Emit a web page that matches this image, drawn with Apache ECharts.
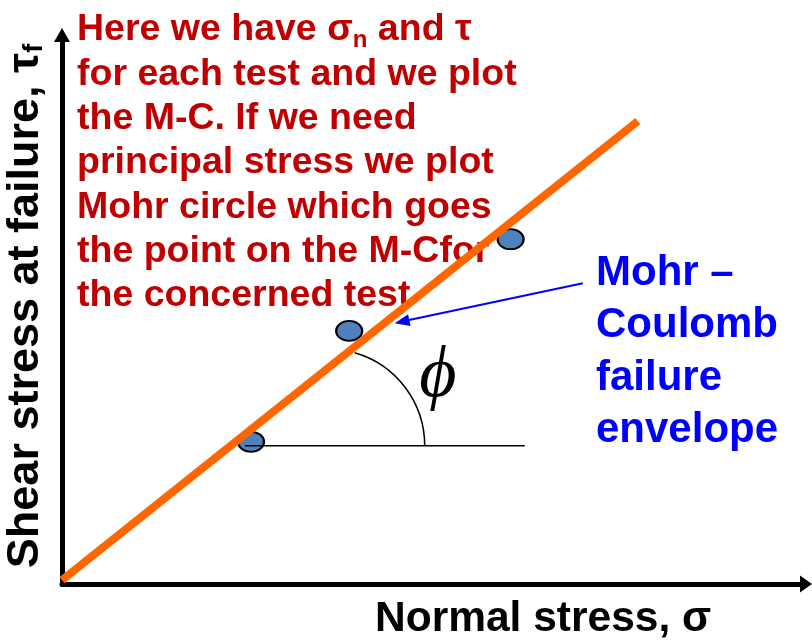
<!DOCTYPE html>
<html>
<head>
<meta charset="utf-8">
<script src="https://cdn.jsdelivr.net/npm/echarts@6/dist/echarts.min.js"></script>
<style>
  html, body { margin: 0; padding: 0; background: #fff; }
  #chart { width: 812px; height: 642px; }
</style>
</head>
<body>
<div id="chart"></div>
<script>
// Mohr–Coulomb failure envelope: shear stress at failure vs normal stress
const envelopeSigma = [0, 77.4];
const envelopeTau = [0.7, 84.3];

// one (σn, τ) pair per test
const testSigma = [25.4, 38.6, 60.3];
const testTau = [25.9, 46.1, 62.8];

// horizontal reference for the friction angle
const refSigma = [24.6, 62.2];
const refTau = [25.2, 25.2];

// friction angle arc: centre (σ, τ), radius in σ units, sweep in degrees
const arcCenter = [35.75, 25.2];
const arcRadius = [13.0];
const arcSweep = [-74, 0];

// pointer from the envelope label to the line
const pointerFrom = [70.0, 54.8];
const pointerTo = [45.7, 47.8];

const noteLines = [
  'Here we have σ{s|n} and τ',
  'for each test and we plot',
  'the M-C. If we need',
  'principal stress we plot',
  'Mohr circle which goes',
  'the point on the M-Cfor',
  'the concerned test'
];
const envelopeLabel = ['Mohr –', 'Coulomb', 'failure', 'envelope'];
const xTitle = 'Normal stress, σ';
const yTitle = 'Shear stress at failure, τ{s|f}';
const angleSymbol = 'ϕ';

const SANS = '"Liberation Sans", Arial, sans-serif';

const chart = echarts.init(document.getElementById('chart'), null, { renderer: 'canvas' });

const axisCommon = {
  type: 'value',
  min: 0,
  max: 100,
  splitLine: { show: false },
  axisTick: { show: false },
  axisLabel: { show: false },
  axisLine: {
    show: true,
    symbol: ['none', 'triangle'],
    lineStyle: { color: '#000', width: 5 }
  }
};

chart.setOption({
  animation: false,
  backgroundColor: '#fff',
  grid: { left: 62, right: 6, top: 35, bottom: 58, outerBoundsMode: 'none' },
  xAxis: Object.assign({}, axisCommon, {
    axisLine: Object.assign({}, axisCommon.axisLine, { symbolSize: [17, 12] })
  }),
  yAxis: Object.assign({}, axisCommon, {
    axisLine: Object.assign({}, axisCommon.axisLine, { symbolSize: [16, 14] })
  }),
  graphic: [
    {
      type: 'text', z: 0,
      style: {
        x: 77, y: 8,
        text: noteLines.join('\n'),
        font: 'bold 37.5px ' + SANS,
        fill: '#C00000',
        lineHeight: 44.3,
        verticalAlign: 'top',
        rich: {
          s: { fontSize: 24, fontWeight: 'bold', fontFamily: SANS, fill: '#C00000', lineHeight: 24, verticalAlign: 'bottom' }
        }
      }
    },
    {
      type: 'text', z: 0,
      style: {
        x: 596, y: 247,
        text: envelopeLabel.join('\n'),
        font: 'bold 42px ' + SANS,
        fill: '#0000FF',
        lineHeight: 52.5,
        verticalAlign: 'top'
      }
    },
    {
      type: 'text', z: 0,
      style: {
        x: 375, y: 619,
        text: xTitle,
        font: 'bold 42.5px ' + SANS,
        fill: '#000',
        verticalAlign: 'middle'
      }
    },
    {
      type: 'text', z: 0,
      x: 26, y: 306,
      rotation: Math.PI / 2,
      style: {
        x: 0, y: 0,
        text: yTitle,
        font: 'bold 45px ' + SANS,
        fill: '#000',
        align: 'center',
        verticalAlign: 'middle',
        rich: {
          s: { fontSize: 27, fontWeight: 'bold', fontFamily: SANS, fill: '#000', lineHeight: 27, verticalAlign: 'bottom' }
        }
      }
    },
    {
      type: 'text', z: 0,
      style: {
        x: 438, y: 377,
        text: angleSymbol,
        font: 'italic 72px "Liberation Serif", "Times New Roman", serif',
        fill: '#000',
        align: 'center',
        verticalAlign: 'middle'
      }
    }
  ],
  series: [
    {
      type: 'scatter',
      z: 2,
      symbol: 'circle',
      symbolSize: [26, 20],
      itemStyle: { color: '#4F81BD', borderColor: '#000', borderWidth: 2, opacity: 1 },
      data: testSigma.map((s, i) => [s, testTau[i]])
    },
    {
      type: 'line',
      z: 3,
      showSymbol: false,
      symbol: 'none',
      lineStyle: { color: '#000', width: 1.5 },
      data: refSigma.map((s, i) => [s, refTau[i]])
    },
    {
      type: 'custom',
      z: 3,
      renderItem: function (params, api) {
        const c = api.coord([api.value(0), api.value(1)]);
        const r = api.size([api.value(2), 0])[0];
        return {
          type: 'arc',
          shape: {
            cx: c[0], cy: c[1], r: r,
            startAngle: arcSweep[0] * Math.PI / 180,
            endAngle: arcSweep[1] * Math.PI / 180,
            clockwise: true
          },
          style: { stroke: '#000', fill: 'none', lineWidth: 1.5 }
        };
      },
      data: [[arcCenter[0], arcCenter[1], arcRadius[0]]]
    },
    {
      type: 'line',
      z: 4,
      showSymbol: false,
      symbol: 'none',
      lineStyle: { color: '#FF6600', width: 8, cap: 'butt' },
      data: envelopeSigma.map((s, i) => [s, envelopeTau[i]])
    },
    {
      type: 'line',
      z: 5,
      data: [],
      markLine: {
        silent: true,
        symbol: ['none', 'triangle'],
        symbolSize: [12, 15],
        label: { show: false },
        lineStyle: { color: '#0000FF', width: 2, type: 'solid' },
        data: [[{ coord: pointerFrom }, { coord: pointerTo }]]
      }
    }
  ]
});
</script>
</body>
</html>
